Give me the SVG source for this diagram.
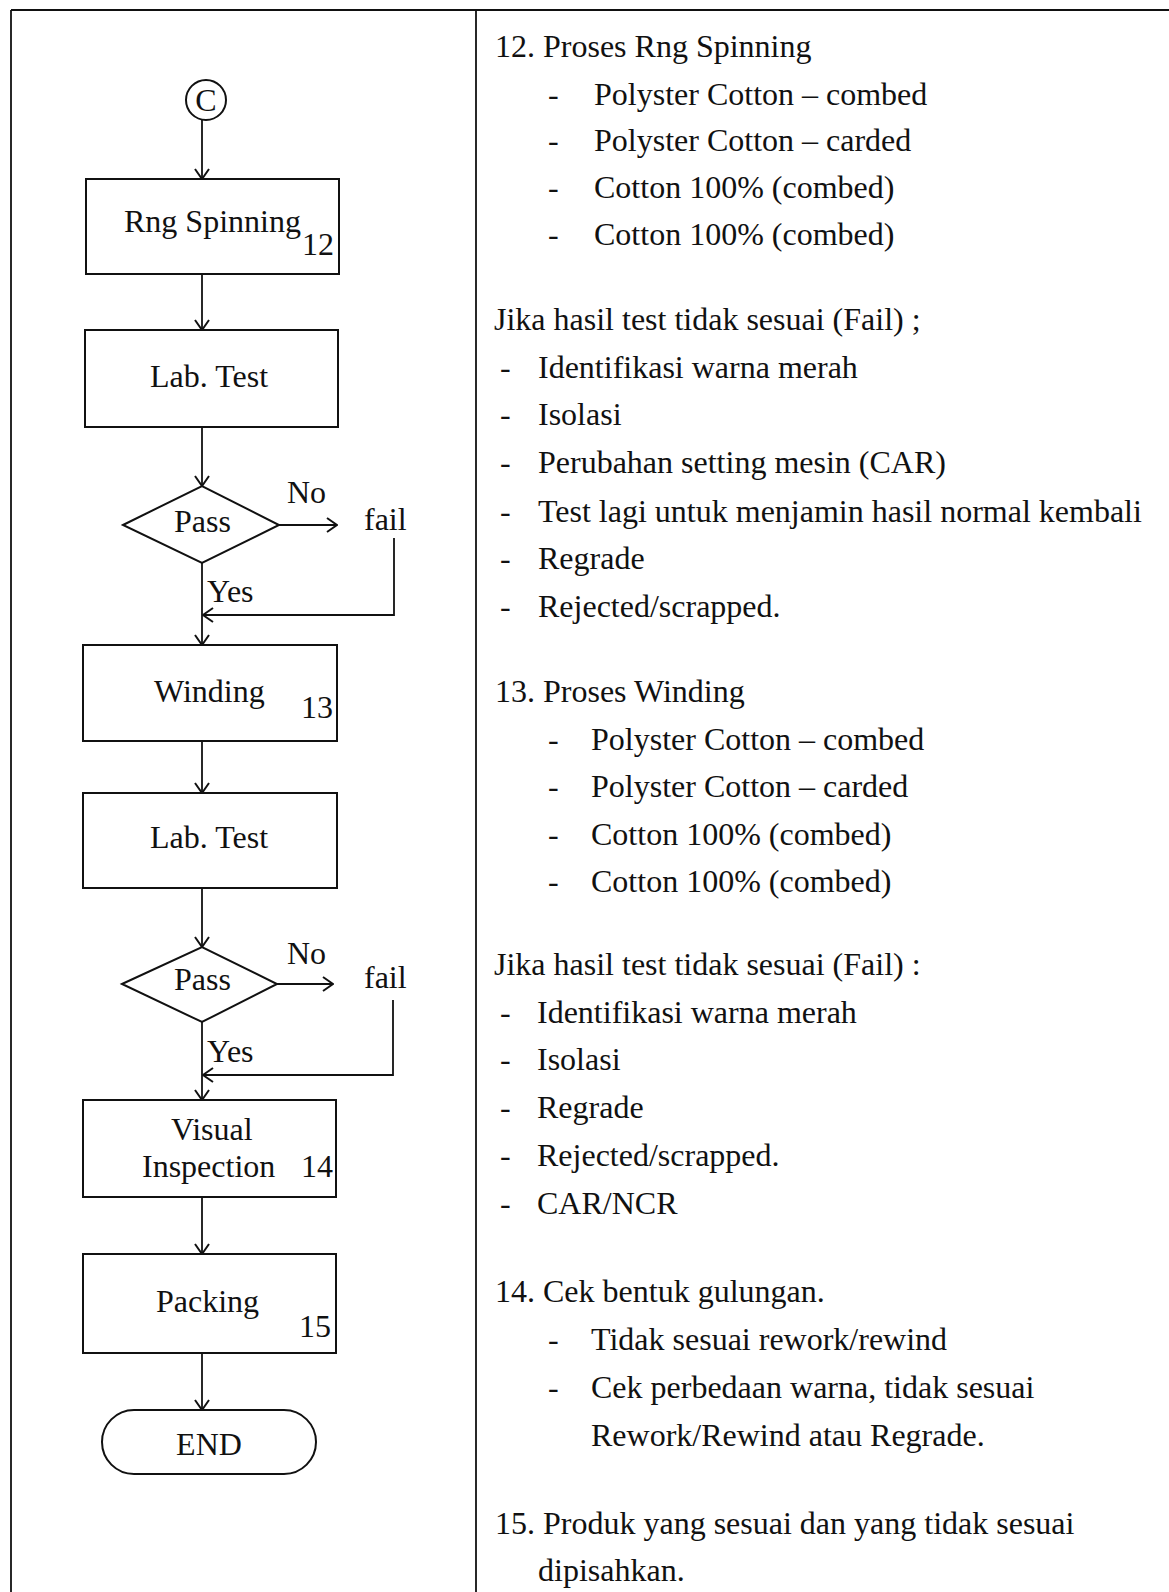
<svg xmlns="http://www.w3.org/2000/svg" width="1169" height="1592" viewBox="0 0 1169 1592">
  <style>
    .t { font-family: "Liberation Serif", "Times New Roman", serif; font-size: 32px; fill: #111; }
    .c { text-anchor: middle; }
    .shape { fill: none; stroke: #111; stroke-width: 2; }
    .line { fill: none; stroke: #111; stroke-width: 1.8; }
    .arrow { marker-end: url(#head); }
  </style>
  <defs>
    <marker id="head" viewBox="0 0 12 16" refX="11" refY="8" markerWidth="12" markerHeight="16" markerUnits="userSpaceOnUse" orient="auto">
      <path d="M1,1 L11,8 L1,15" fill="none" stroke="#111" stroke-width="2"/>
    </marker>
  </defs>
  <rect width="1169" height="1592" fill="#fff"/>

  <!-- page frame -->
  <g id="frame" class="line">
    <line x1="11" y1="10" x2="1169" y2="10"/>
    <line x1="11" y1="10" x2="11" y2="1592"/>
    <line x1="476" y1="10" x2="476" y2="1592"/>
  </g>

  <!-- connectors -->
  <g id="connectors">
    <line class="line arrow" x1="202" y1="119" x2="202" y2="179"/>
    <line class="line arrow" x1="202" y1="274" x2="202" y2="330"/>
    <line class="line arrow" x1="202" y1="427" x2="202" y2="486"/>
    <line class="line arrow" x1="279" y1="525" x2="337" y2="525"/>
    <polyline class="line arrow" points="394,538 394,615 203,615"/>
    <line class="line arrow" x1="202" y1="563" x2="202" y2="645"/>
    <line class="line arrow" x1="202" y1="741" x2="202" y2="793"/>
    <line class="line arrow" x1="202" y1="888" x2="202" y2="947"/>
    <line class="line arrow" x1="277" y1="984" x2="333" y2="984"/>
    <polyline class="line arrow" points="393,1000 393,1075 203,1075"/>
    <line class="line arrow" x1="202" y1="1022" x2="202" y2="1100"/>
    <line class="line arrow" x1="202" y1="1197" x2="202" y2="1254"/>
    <line class="line arrow" x1="202" y1="1353" x2="202" y2="1410"/>
  </g>

  <!-- flowchart nodes -->
  <g id="start-c">
    <circle class="shape" cx="206" cy="100" r="20"/>
    <text class="t c" x="206" y="111" style="font-size:32px">C</text>
  </g>
  <g id="ring-spinning">
    <rect class="shape" x="86" y="179" width="253" height="95"/>
    <text class="t" x="124" y="232">Rng Spinning</text>
    <text class="t" x="302" y="255">12</text>
  </g>
  <g id="lab-test-1">
    <rect class="shape" x="85" y="330" width="253" height="97"/>
    <text class="t" x="150" y="387">Lab. Test</text>
  </g>
  <g id="pass-1">
    <polygon class="shape" points="123,525 202,486 279,525 202,563"/>
    <text class="t" x="174" y="532">Pass</text>
    <text class="t" x="287" y="503">No</text>
    <text class="t" x="364" y="530">fail</text>
    <text class="t" x="207" y="602">Yes</text>
  </g>
  <g id="winding">
    <rect class="shape" x="83" y="645" width="254" height="96"/>
    <text class="t" x="154" y="702">Winding</text>
    <text class="t" x="301" y="718">13</text>
  </g>
  <g id="lab-test-2">
    <rect class="shape" x="83" y="793" width="254" height="95"/>
    <text class="t" x="150" y="848">Lab. Test</text>
  </g>
  <g id="pass-2">
    <polygon class="shape" points="122,984 202,947 277,984 202,1022"/>
    <text class="t" x="174" y="990">Pass</text>
    <text class="t" x="287" y="964">No</text>
    <text class="t" x="364" y="988">fail</text>
    <text class="t" x="207" y="1062">Yes</text>
  </g>
  <g id="visual-inspection">
    <rect class="shape" x="83" y="1100" width="253" height="97"/>
    <text class="t" x="171" y="1140">Visual</text>
    <text class="t" x="142" y="1177">Inspection</text>
    <text class="t" x="301" y="1177">14</text>
  </g>
  <g id="packing">
    <rect class="shape" x="83" y="1254" width="253" height="99"/>
    <text class="t" x="156" y="1312">Packing</text>
    <text class="t" x="299" y="1337">15</text>
  </g>
  <g id="end">
    <rect class="shape" x="102" y="1410" width="214" height="64" rx="32" ry="32"/>
    <text class="t c" x="209" y="1455">END</text>
  </g>

  <!-- step descriptions -->
  <g id="notes" class="t">
    <text x="495" y="57">12. Proses Rng Spinning</text>
    <text x="548" y="105">-</text><text x="594" y="105">Polyster Cotton – combed</text>
    <text x="548" y="151">-</text><text x="594" y="151">Polyster Cotton – carded</text>
    <text x="548" y="198">-</text><text x="594" y="198">Cotton 100% (combed)</text>
    <text x="548" y="245">-</text><text x="594" y="245">Cotton 100% (combed)</text>

    <text x="494" y="330">Jika hasil test tidak sesuai (Fail) ;</text>
    <text x="500" y="378">-</text><text x="538" y="378">Identifikasi warna merah</text>
    <text x="500" y="425">-</text><text x="538" y="425">Isolasi</text>
    <text x="500" y="473">-</text><text x="538" y="473">Perubahan setting mesin (CAR)</text>
    <text x="500" y="522">-</text><text x="538" y="522">Test lagi untuk menjamin hasil normal kembali</text>
    <text x="500" y="569">-</text><text x="538" y="569">Regrade</text>
    <text x="500" y="617">-</text><text x="538" y="617">Rejected/scrapped.</text>

    <text x="495" y="702">13. Proses Winding</text>
    <text x="548" y="750">-</text><text x="591" y="750">Polyster Cotton – combed</text>
    <text x="548" y="797">-</text><text x="591" y="797">Polyster Cotton – carded</text>
    <text x="548" y="845">-</text><text x="591" y="845">Cotton 100% (combed)</text>
    <text x="548" y="892">-</text><text x="591" y="892">Cotton 100% (combed)</text>

    <text x="494" y="975">Jika hasil test tidak sesuai (Fail) :</text>
    <text x="500" y="1023">-</text><text x="537" y="1023">Identifikasi warna merah</text>
    <text x="500" y="1070">-</text><text x="537" y="1070">Isolasi</text>
    <text x="500" y="1118">-</text><text x="537" y="1118">Regrade</text>
    <text x="500" y="1166">-</text><text x="537" y="1166">Rejected/scrapped.</text>
    <text x="500" y="1214">-</text><text x="537" y="1214">CAR/NCR</text>

    <text x="495" y="1302">14. Cek bentuk gulungan.</text>
    <text x="548" y="1350">-</text><text x="591" y="1350">Tidak sesuai rework/rewind</text>
    <text x="548" y="1398">-</text><text x="591" y="1398">Cek perbedaan warna, tidak sesuai</text>
    <text x="591" y="1446">Rework/Rewind atau Regrade.</text>

    <text x="495" y="1534">15. Produk yang sesuai dan yang tidak sesuai</text>
    <text x="538" y="1581">dipisahkan.</text>
  </g>
</svg>
